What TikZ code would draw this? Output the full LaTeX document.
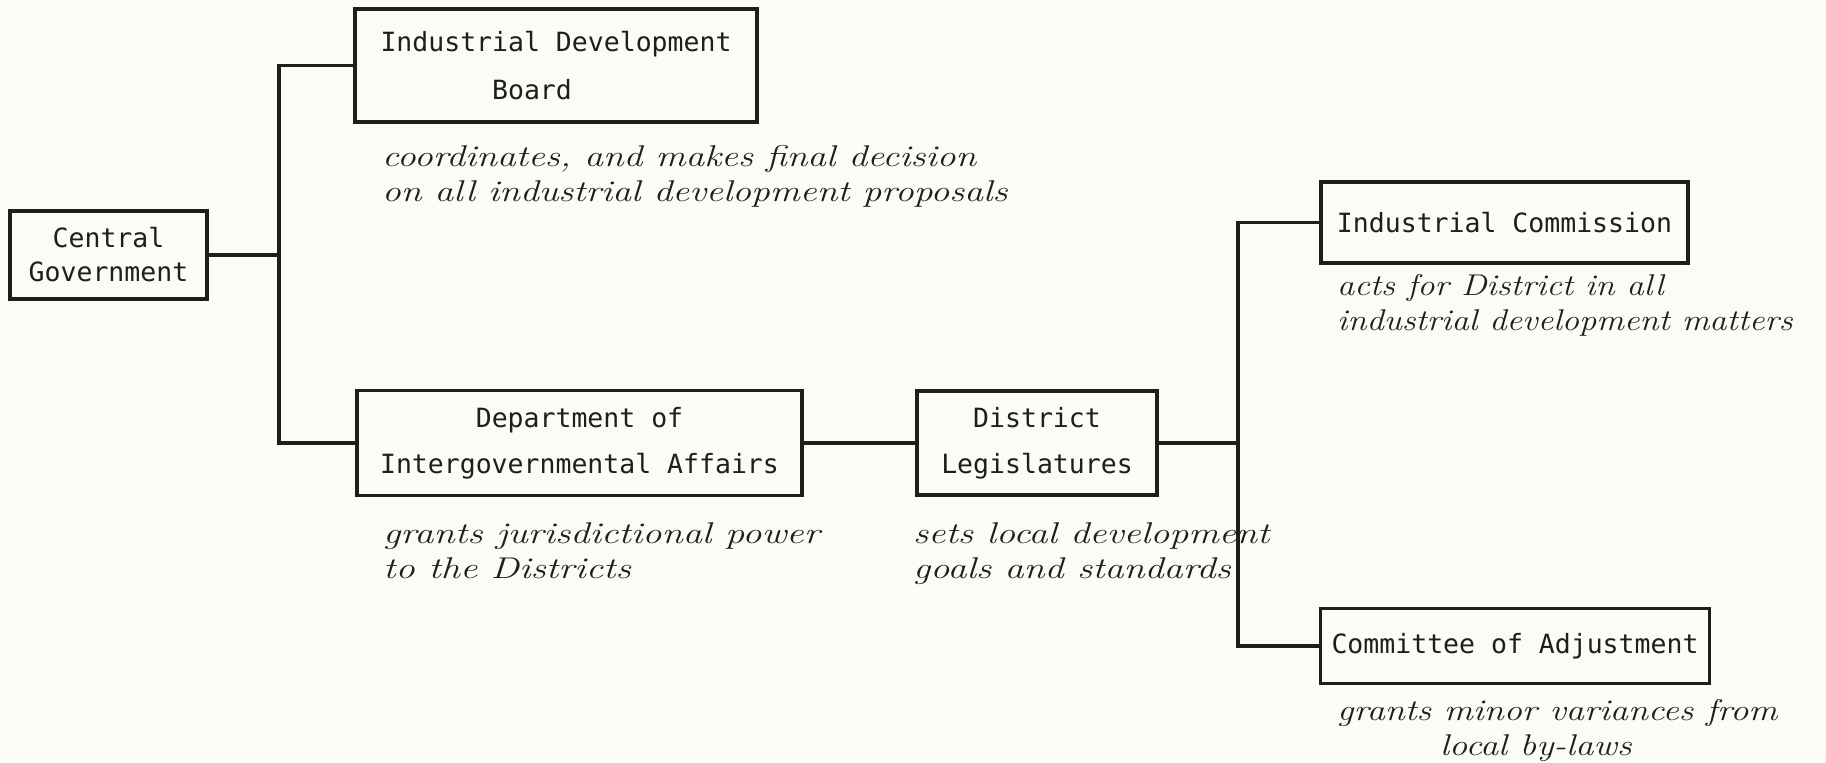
\documentclass[tikz,border=0pt]{standalone}
\usepackage{fontspec}
\usepackage{graphicx}
\newfontfamily\typewriter{DejaVu Sans Mono}
\definecolor{paper}{RGB}{252,251,246}
\definecolor{ink}{RGB}{30,30,30}
\newcommand\annot[2][1.25]{\scalebox{#1}[1]{\fontsize{30}{35}\selectfont\itshape\begin{tabular}{@{}l@{}}#2\end{tabular}}}
\tikzset{
  orgbox/.style={draw=ink, line width=3.5pt, text=ink, align=center, inner sep=0pt,
    font=\typewriter\fontsize{26.5}{32}\selectfont},
  wire/.style={draw=ink, line width=3.2pt},
  note/.style={anchor=west, inner sep=0pt, text=ink}
}
\begin{document}
\begin{tikzpicture}[x=1pt,y=-1pt]
\path[fill=paper] (0,0) rectangle (1826,763);
\useasboundingbox (0,0) rectangle (1826,763);

% boxes
\node[orgbox, minimum width=197pt, minimum height=88pt] (cg) at (108.5,255) {Central\\[2pt]Government};
\node[orgbox, minimum width=402pt, minimum height=113pt] (idb) at (556,65.5) {Industrial Development\\[16pt]Board\hspace*{48pt}};
\node[orgbox, minimum width=445pt, minimum height=105pt] (dia) at (579.5,443) {Department of\\[14pt]Intergovernmental Affairs};
\node[orgbox, minimum width=240pt, minimum height=104pt] (dl) at (1037,443) {District\\[14pt]Legislatures};
\node[orgbox, minimum width=367pt, minimum height=81pt] (ic) at (1504.5,222.5) {Industrial Commission};
\node[orgbox, minimum width=389pt, minimum height=75pt] (coa) at (1515,646) {Committee of Adjustment};

% junctions
\coordinate (j1top) at (279,65.5);
\coordinate (j1bot) at (279,443);
\coordinate (j2top) at (1238,222.5);
\coordinate (j2bot) at (1238,646);

% connectors
\draw[wire] (idb.west) -- (j1top) -- (j1bot) -- (dia.west);
\draw[wire] (cg.east) -- (cg.east -| j1top);
\draw[wire] (dia.east) -- (dl.west);
\draw[wire] (ic.west) -- (j2top) -- (j2bot) -- (coa.west);
\draw[wire] (dl.east) -- (dl.east -| j2top);

% annotations
\node[note] (nidb) at (382,177) {\annot{coordinates, and makes final decision\\on all industrial development proposals}};
\node[note] (ndia) at (383,554) {\annot[1.28]{grants jurisdictional power\\to the Districts}};
\node[note] (ndl) at (913,554) {\annot[1.27]{sets local development\\goals and standards}};
\node[note] (nic) at (1337,306) {\annot[1.15]{acts for District in all\\industrial development matters}};
\node[note] (ncoa) at (1337,731) {\annot[1.21]{grants minor variances from\\\hspace*{85pt}local by-laws}};
\end{tikzpicture}
\end{document}
